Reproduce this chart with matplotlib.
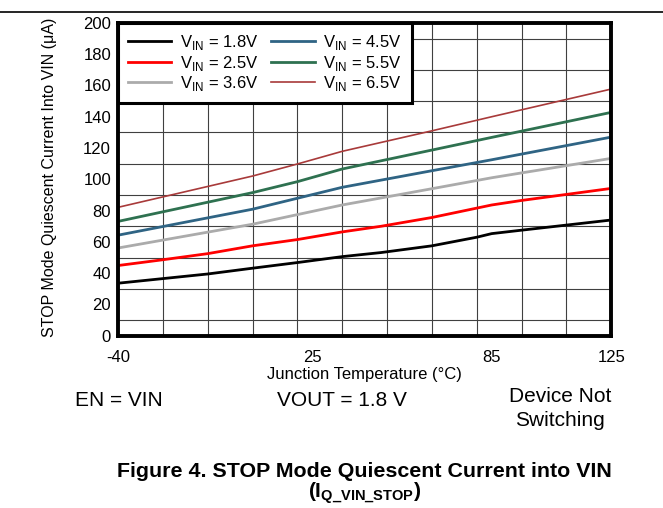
import numpy as np
import matplotlib
matplotlib.use('Agg')
import matplotlib.pyplot as plt
from matplotlib.lines import Line2D

plt.rcParams['font.family'] = ['Liberation Sans', 'DejaVu Sans']
plt.rcParams['mathtext.fontset'] = 'custom'
plt.rcParams['mathtext.rm'] = 'Liberation Sans'
plt.rcParams['mathtext.bf'] = 'Liberation Sans:bold'
plt.rcParams['axes.unicode_minus'] = False

# Junction temperature (degC) and current into VIN (uA)
temp_18 = [-40, -10, 5, 20, 35, 48, 65, 80, 85, 95, 125]
iq_18 = [33.6, 39.5, 43.2, 46.8, 50.6, 53.2, 57.5, 63.0, 65.3, 67.5, 74.0]

temp_25 = [-40, -25, -10, 5, 20, 35, 48, 65, 80, 85, 95, 125]
iq_25 = [44.9, 48.6, 52.5, 57.5, 61.5, 66.4, 70.0, 75.6, 81.6, 83.6, 86.5, 94.2]

temp_36 = [-40, 5, 35, 65, 85, 125]
iq_36 = [56.1, 71.3, 83.6, 94.0, 101.0, 113.4]

temp_45 = [-40, 5, 20, 35, 65, 85, 125]
iq_45 = [64.3, 80.9, 87.9, 94.9, 105.5, 112.5, 127.0]

temp_55 = [-40, 5, 20, 35, 65, 85, 125]
iq_55 = [73.1, 91.5, 98.5, 106.6, 118.7, 126.8, 142.8]

temp_65 = [-40, 5, 20, 35, 65, 85, 125]
iq_65 = [82.1, 102.1, 109.8, 117.9, 131.0, 140.0, 157.7]

fig = plt.figure(figsize=(6.63, 5.08), dpi=100)
ax = fig.add_axes([0.178, 0.339, 0.744, 0.616])

# header rule across the page
fig.add_artist(Line2D([0, 1], [0.976, 0.976], color='black', lw=1.2))

ax.plot(temp_18, iq_18, color='black', lw=2.0, label=r'V$_{\mathregular{IN}}$ = 1.8V')
ax.plot(temp_25, iq_25, color='#FF0000', lw=2.0, label=r'V$_{\mathregular{IN}}$ = 2.5V')
ax.plot(temp_36, iq_36, color='#ABABAB', lw=2.0, label=r'V$_{\mathregular{IN}}$ = 3.6V')
ax.plot(temp_45, iq_45, color='#2F6484', lw=2.0, label=r'V$_{\mathregular{IN}}$ = 4.5V')
ax.plot(temp_55, iq_55, color='#2E7150', lw=2.0, label=r'V$_{\mathregular{IN}}$ = 5.5V')
ax.plot(temp_65, iq_65, color='#A83A3A', lw=1.2, label=r'V$_{\mathregular{IN}}$ = 6.5V')

ax.set_xlim(-40, 125)
ax.set_ylim(0, 200)
ax.set_xticks([-40, 25, 85, 125])
ax.set_xticks(np.arange(-40, 126, 15), minor=True)
ax.set_yticks(np.arange(0, 201, 20))
ax.set_yticks(np.arange(0, 201, 10), minor=True)
ax.tick_params(which='both', length=0, labelsize=12, pad=5)
ax.tick_params(axis='x', pad=10)
ax.grid(True, which='minor', color='#404040', lw=0.8)
ax.set_axisbelow(True)
for s in ax.spines.values():
    s.set_linewidth(2.8)

ax.set_xlabel('Junction Temperature (°C)', fontsize=12, labelpad=2)
ax.set_ylabel('STOP Mode Quiescent Current Into VIN (μA)', fontsize=11.5)
ax.yaxis.set_label_coords(-0.123, 0.505)

leg = ax.legend(ncol=2, loc='upper left', fontsize=12, frameon=True, fancybox=False,
                borderaxespad=0, handlelength=2.6, columnspacing=0.8,
                labelspacing=0.1, handletextpad=0.5, borderpad=0.6)
leg.get_frame().set_edgecolor('black')
leg.get_frame().set_linewidth(2.2)
leg.get_frame().set_alpha(1)

fig.text(0.180, 0.212, 'EN = VIN', fontsize=15, ha='center', va='center')
fig.text(0.515, 0.212, 'VOUT = 1.8 V', fontsize=15, ha='center', va='center')
fig.text(0.845, 0.238, 'Device Not\nSwitching', fontsize=15, ha='center', va='top',
         linespacing=1.3)
fig.text(0.550, 0.072, 'Figure 4. STOP Mode Quiescent Current into VIN',
         fontsize=15.4, fontweight='bold', ha='center', va='center')
fig.text(0.550, 0.004, r'(I$_{\mathbf{Q\_VIN\_STOP}}$)',
         fontsize=15, fontweight='bold', ha='center', va='bottom')

fig.savefig('out.png', dpi=100)
